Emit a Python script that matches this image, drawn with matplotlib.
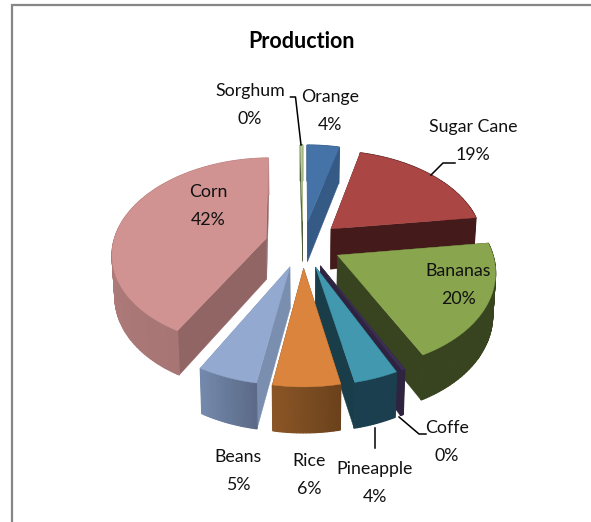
import numpy as np
import matplotlib
matplotlib.use("Agg")
import matplotlib.pyplot as plt
from matplotlib.colors import to_rgb

plt.rcParams['font.family'] = ['Lato', 'DejaVu Sans']

# ============================================================
# DATA (clockwise from the top)
# ============================================================
categories = ['Orange', 'Sugar Cane', 'Bananas', 'Coffe', 'Pineapple',
              'Rice', 'Beans', 'Corn', 'Sorghum']
values = [4, 19, 19.7, 0.3, 3.9, 5.9, 5.3, 41.8, 0.3]

top_colors = ['#4573A7', '#AA4643', '#89A54E', '#3B2F55', '#4198AF',
              '#DB843D', '#93A9CF', '#D19392', '#B9CD96']
radial_colors = ['#345A85', '#451A1A', '#38441F', '#2E2440', '#1A3D4A',
                 '#6B421C', '#7A8FB0', '#926565', '#4E5A38']
wall_start = ['#345A85', '#451A1A', '#38441F', '#2E2440', '#1B3F4E',
              '#6B421C', '#5C6A88', '#A67574', '#4E5A38']
wall_end = ['#345A85', '#451A1A', '#38441F', '#2E2440', '#1B3F4E',
            '#8A5526', '#7389AB', '#BC8583', '#4E5A38']

# label centres, pixels
label_pos = [(330, 111), (473, 141), (458, 285), (447, 442), (375, 483),
             (309, 475), (238, 471), (208, 206), (250, 105)]

# ============================================================
# PROJECTION
# ============================================================
CX, CY = 303, 244
RX, RY = 153, 93.6
PERSP = 0.145
EXPLODE = 0.25


def project(X, Z):
    s = 1 / (1 - PERSP * Z)
    return CX + X * RX * s, CY + Z * RY * s


def drop(x, Z):
    # same point, on the bottom of the slab
    return CX + (x[0] - CX) * 0.985, x[1] + 41 + 4 * Z


fig = plt.figure(figsize=(5.91, 5.22), dpi=100)
ax = fig.add_axes([0, 0, 1, 1])
ax.set_xlim(0, 591)
ax.set_ylim(522, 0)
ax.axis('off')

# frame of the chart area
ax.plot([12, 12, 591], [522, 5, 5], color='#868686', lw=1.6, solid_joinstyle='miter')

# ============================================================
# SLICES
# ============================================================
total = sum(values)
edges = np.cumsum([0] + values) / total * 2 * np.pi
mids = (edges[:-1] + edges[1:]) / 2
draw_order = sorted(range(len(values)), key=lambda i: -np.cos(mids[i]))

for i in draw_order:
    ox = EXPLODE * np.sin(mids[i])
    oz = -EXPLODE * np.cos(mids[i])
    n = max(4, int(np.degrees(edges[i + 1] - edges[i])))
    th = np.linspace(edges[i], edges[i + 1], n)
    Xs = ox + np.sin(th)
    Zs = oz - np.cos(th)
    top = [project(a, b) for a, b in zip(Xs, Zs)]
    bot = [drop(p, z) for p, z in zip(top, Zs)]
    apex = project(ox, oz)
    apex_bot = drop(apex, oz)

    # flat faces from the centre to the rim
    for k in (0, -1):
        poly = [apex, top[k], bot[k], apex_bot]
        ax.fill(*zip(*poly), color=radial_colors[i], lw=0.3)

    # rim, shaded along the arc
    c0 = np.array(to_rgb(wall_start[i]))
    c1 = np.array(to_rgb(wall_end[i]))
    for k in range(n - 1):
        col = c0 + (c1 - c0) * k / max(n - 2, 1)
        poly = [top[k], top[k + 1], bot[k + 1], bot[k]]
        ax.fill(*zip(*poly), color=col, lw=0.9)

    poly = [apex] + top
    ax.fill(*zip(*poly), color=top_colors[i], lw=0.3)

# ============================================================
# TEXT
# ============================================================
ax.text(302, 41, 'Production', ha='center', va='center', fontsize=15.5,
        fontweight='bold', color='black')

for name, val, pos in zip(categories, values, label_pos):
    ax.text(pos[0], pos[1], f"{name}\n{val:.0f}%", ha='center', va='center',
            fontsize=12.8, linespacing=1.85, color='#111111')

# leader lines
ax.plot([290.5, 295.5, 301], [97, 97, 145], color='black', lw=1.1)
ax.plot([455, 443, 431], [163, 163, 175], color='black', lw=1.1)
ax.plot([399, 419, 426], [417, 434, 434], color='black', lw=1.1)
ax.plot([375, 375], [428, 448], color='black', lw=1.1)

plt.savefig('out.png', dpi=100)
